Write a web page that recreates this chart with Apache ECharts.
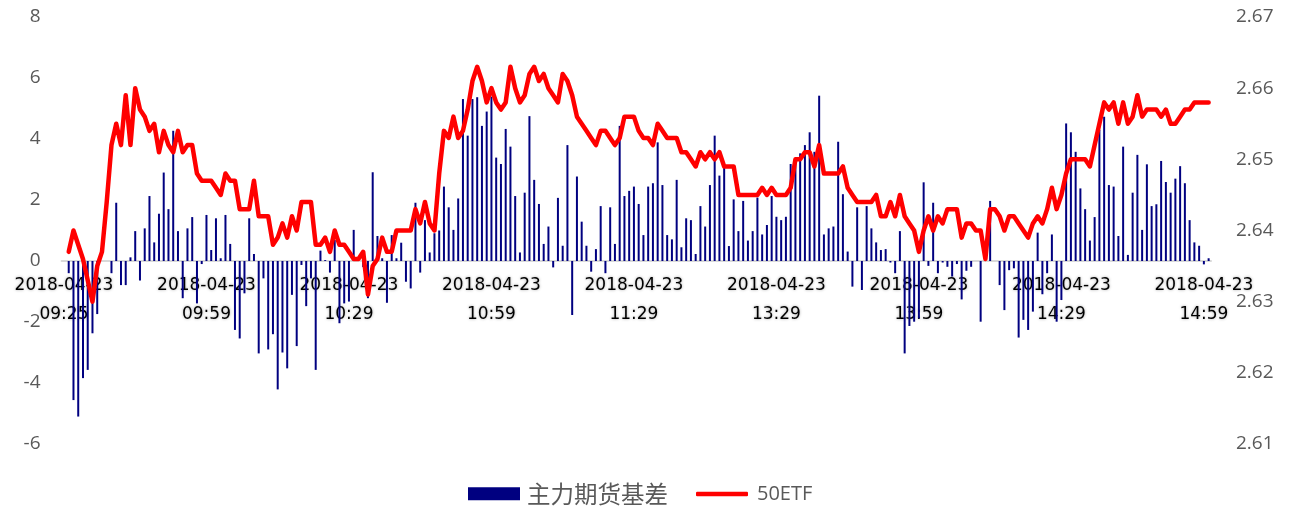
<!DOCTYPE html>
<html>
<head>
<meta charset="utf-8">
<script src="https://cdn.jsdelivr.net/npm/echarts@6/dist/echarts.min.js"></script>
<style>
html,body{margin:0;padding:0;background:#fff;}
#chart{width:1293px;height:509px;}
</style>
</head>
<body>
<div id="chart"></div>
<script>
// ---- categories: 09:25 auction, 09:30-11:30, 13:01-15:00 (one per minute)
var dateLabel = '2018-04-23';
var categories = (function(){
  var out = ['09:25'];
  function pad(n){ return (n < 10 ? '0' : '') + n; }
  var m;
  for (m = 9*60+30; m <= 11*60+30; m++) out.push(pad(Math.floor(m/60)) + ':' + pad(m%60));
  for (m = 13*60+1; m <= 15*60; m++) out.push(pad(Math.floor(m/60)) + ':' + pad(m%60));
  return out;
})();

// ---- 主力期货基差 (left axis)
var basis = [
  null, -0.4, -4.56, -5.1, -3.84, -3.57, -2.37, -1.74, 0, 0,
  -0.4, 1.91, -0.79, -0.79, 0.12, 0.98, -0.64, 1.07, 2.13, 0.61,
  1.55, 2.9, 1.7, 4.27, 0.98, -1.22, 1.07, 1.44, -1.39, -0.1,
  1.51, 0.36, 1.40, 0.09, 1.51, 0.56, -2.26, -2.54, -1.06, 1.40,
  0.23, -3.03, -0.57, -2.9, -2.4, -4.21, -3.0, -3.52, -1.11, -2.79,
  -0.13, -1.48, -0.57, -3.57, 0.34, 0.03, -0.38, 0.69, -2.04, -1.39,
  -1.33, 1.02, 0, -0.2, -1.22, 2.91, 0.82, 0.09, -1.37, 0.85,
  0.09, 0.6, -0.68, -0.9, 1.91, -0.38, 1.34, 0.28, 0.91, 1.0,
  2.44, 1.76, 1.02, 2.05, 5.31, 4.11, 5.31, 5.37, 4.43, 4.9,
  5.39, 3.39, 3.18, 4.33, 3.75, 2.13, 0.28, 2.24, 4.75, 2.66,
  1.87, 0.56, 1.13, -0.21, 2.07, 0.5, 3.8, -1.77, 2.77, 1.29,
  0.5, -0.35, 0.39, 1.8, -0.4, 1.76, 0.56, 4.43, 2.13, 2.3,
  2.44, 1.87, 0.85, 2.44, 2.55, 3.89, 2.49, 0.85, 0.71, 2.66,
  0.45, 1.40, 1.34, 0.23, 1.80, 1.13, 2.49, 4.11, 2.80, 3.15,
  0.49, 2.02, 0.98, 1.97, 0.67, 0.98, 2.08, 0.87, 1.18, 2.13,
  1.45, 1.34, 1.45, 3.18, 3.37, 3.53, 3.80, 4.22, 3.58, 5.42,
  0.87, 1.07, 1.13, 3.91, 2.19, 0.31, -0.84, 1.76, -0.95, 1.80,
  1.07, 0.61, 0.36, 0.39, -0.05, -0.4, 0.98, -3.03, -2.13, -1.99,
  -1.88, 2.58, -0.16, 1.91, -0.40, -0.05, -0.19, -0.51, -0.10, -1.26,
  -0.32, -0.19, 0, -1.99, 0, 1.97, 0, -0.79, -1.61, -0.30,
  -0.24, -2.51, -1.93, -2.26, -1.66, 0.93, -1.09, -0.40, 0.87, -1.99,
  -1.28, 4.51, 4.22, 3.58, 2.38, 1.70, 0.67, 1.44, 4.30, 4.73,
  2.49, 2.44, 0.82, 3.75, 0.20, 2.24, 3.48, 1.02, 3.17, 1.80,
  1.86, 3.28, 2.59, 2.24, 2.70, 3.11, 2.55, 1.34, 0.61, 0.50,
  -0.11, 0.09
];

// ---- 50ETF (right axis)
var etf = [
  null, 2.637, 2.640, 2.638, 2.636, 2.633, 2.630, 2.635, 2.637, 2.644,
  2.652, 2.655, 2.652, 2.659, 2.652, 2.660, 2.657, 2.656, 2.654, 2.655,
  2.651, 2.654, 2.652, 2.651, 2.654, 2.651, 2.652, 2.652, 2.648, 2.647,
  2.647, 2.647, 2.646, 2.645, 2.648, 2.647, 2.647, 2.643, 2.643, 2.643,
  2.647, 2.642, 2.642, 2.642, 2.638, 2.639, 2.641, 2.639, 2.642, 2.640,
  2.644, 2.644, 2.644, 2.638, 2.638, 2.639, 2.637, 2.640, 2.638, 2.638,
  2.637, 2.636, 2.636, 2.637, 2.631, 2.635, 2.636, 2.639, 2.637, 2.637,
  2.640, 2.640, 2.640, 2.640, 2.643, 2.641, 2.644, 2.641, 2.640, 2.648,
  2.654, 2.653, 2.656, 2.653, 2.654, 2.657, 2.661, 2.663, 2.661, 2.658,
  2.660, 2.658, 2.657, 2.658, 2.663, 2.660, 2.658, 2.659, 2.662, 2.663,
  2.661, 2.662, 2.660, 2.659, 2.658, 2.662, 2.661, 2.659, 2.656, 2.655,
  2.654, 2.653, 2.652, 2.654, 2.654, 2.653, 2.652, 2.653, 2.656, 2.656,
  2.656, 2.654, 2.653, 2.653, 2.652, 2.655, 2.654, 2.653, 2.653, 2.653,
  2.651, 2.651, 2.650, 2.649, 2.651, 2.650, 2.651, 2.650, 2.651, 2.649,
  2.649, 2.649, 2.645, 2.645, 2.645, 2.645, 2.645, 2.646, 2.645, 2.646,
  2.645, 2.645, 2.645, 2.646, 2.650, 2.650, 2.651, 2.651, 2.649, 2.652,
  2.648, 2.648, 2.648, 2.648, 2.649, 2.646, 2.645, 2.644, 2.644, 2.644,
  2.644, 2.645, 2.642, 2.642, 2.644, 2.642, 2.645, 2.642, 2.641, 2.640,
  2.637, 2.640, 2.642, 2.640, 2.642, 2.641, 2.643, 2.643, 2.643, 2.639,
  2.641, 2.641, 2.640, 2.640, 2.636, 2.643, 2.643, 2.642, 2.640, 2.642,
  2.642, 2.641, 2.640, 2.639, 2.641, 2.642, 2.641, 2.643, 2.646, 2.643,
  2.645, 2.648, 2.650, 2.650, 2.650, 2.650, 2.649, 2.652, 2.655, 2.658,
  2.657, 2.658, 2.655, 2.658, 2.655, 2.656, 2.659, 2.656, 2.657, 2.657,
  2.657, 2.656, 2.657, 2.655, 2.655, 2.656, 2.657, 2.657, 2.658, 2.658,
  2.658, 2.658
];

// ---- axis ticks
var leftTicks = { min: -6, max: 8, interval: 2 };
var rightTicks = { min: 2.61, max: 2.67, interval: 0.01 };
var seriesNames = ['主力期货基差', '50ETF'];

var gridTop = 17, gridBottom = 65, chartH = 509;
var gridH = chartH - gridTop - gridBottom;
// pixel distance from grid bottom up to the zero of the left axis
var zeroOffset = gridH * (0 - leftTicks.min) / (leftTicks.max - leftTicks.min);

var chart = echarts.init(document.getElementById('chart'), null, { renderer: 'canvas' });
chart.setOption({
  animation: false,
  backgroundColor: '#ffffff',
  grid: { left: 61.6, right: 82, top: gridTop, bottom: gridBottom, containLabel: false },
  legend: [
    {
      left: 468, top: 482, padding: 0,
      itemWidth: 52, itemHeight: 13, itemGap: 0,
      textStyle: { fontFamily: 'Noto Sans CJK SC', fontSize: 23.5, color: '#595959', padding: [0, 0, 0, 2] },
      data: [{ name: seriesNames[0], icon: 'rect' }]
    },
    {
      left: 696, top: 484, padding: 0,
      itemWidth: 52, itemHeight: 4.5, itemGap: 0,
      textStyle: { fontFamily: 'Open Sans', fontSize: 20, color: '#595959', padding: [0, 0, 0, 4] },
      data: [{ name: seriesNames[1], icon: 'roundRect' }]
    }
  ],
  xAxis: {
    type: 'category',
    data: categories,
    boundaryGap: true,
    position: 'bottom',
    offset: -zeroOffset,
    axisLine: { onZero: false, lineStyle: { color: '#d9d9d9', width: 2 } },
    axisTick: { show: false },
    splitLine: { show: false },
    axisLabel: {
      interval: 29,
      margin: 10,
      fontFamily: 'DejaVu Sans',
      fontSize: 17,
      lineHeight: 29,
      color: '#000000',
      textShadowColor: 'rgba(0,0,0,0.35)',
      textShadowBlur: 3,
      formatter: function (v) { return dateLabel + '\n' + v; }
    }
  },
  yAxis: [
    {
      type: 'value',
      min: leftTicks.min, max: leftTicks.max, interval: leftTicks.interval,
      axisLine: { show: false },
      axisTick: { show: false },
      splitLine: { show: false },
      axisLabel: { margin: 21, fontFamily: 'Open Sans', fontSize: 19, color: '#595959' }
    },
    {
      type: 'value',
      position: 'right',
      min: rightTicks.min, max: rightTicks.max, interval: rightTicks.interval,
      axisLine: { show: false },
      axisTick: { show: false },
      splitLine: { show: false },
      axisLabel: {
        margin: 25, fontFamily: 'Open Sans', fontSize: 19, color: '#595959',
        formatter: function (v) { return v.toFixed(2); }
      }
    }
  ],
  series: [
    {
      name: seriesNames[0],
      type: 'bar',
      yAxisIndex: 0,
      data: basis,
      barWidth: 2,
      itemStyle: { color: '#000080' }
    },
    {
      name: seriesNames[1],
      type: 'line',
      yAxisIndex: 1,
      data: etf,
      symbol: 'none',
      showSymbol: false,
      connectNulls: false,
      z: 3,
      lineStyle: { color: '#ff0000', width: 4.5, join: 'round', cap: 'round' },
      itemStyle: { color: '#ff0000' }
    }
  ]
});
</script>
</body>
</html>
